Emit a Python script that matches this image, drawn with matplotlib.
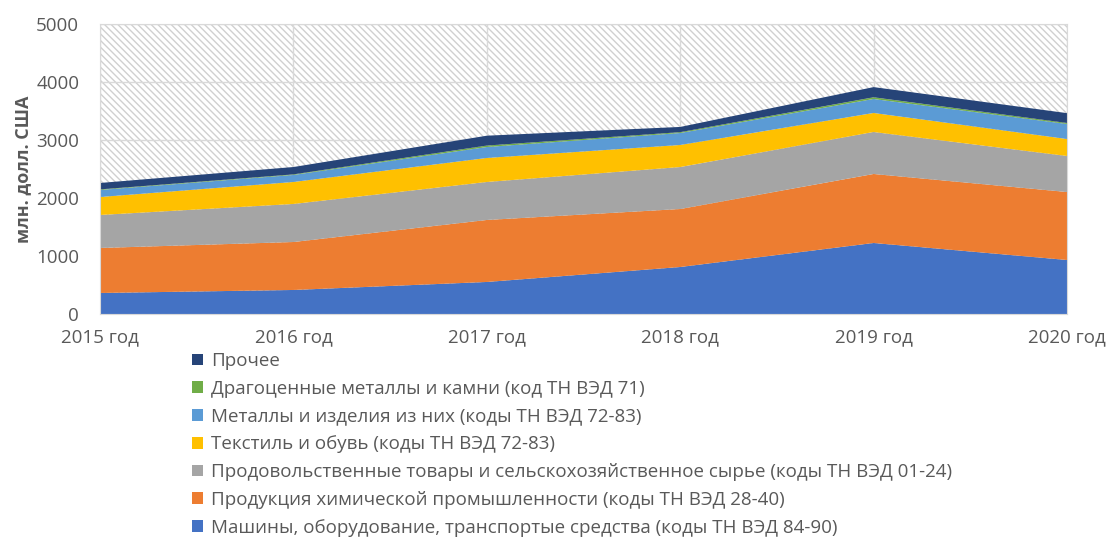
import matplotlib.pyplot as plt
import numpy as np
from matplotlib.patches import Patch

years = ["2015 год", "2016 год", "2017 год", "2018 год", "2019 год", "2020 год"]

# млн. долл. США, снизу вверх
mashiny = [362, 414, 552, 810, 1224, 931]
himiya = [776, 827, 1069, 1000, 1190, 1172]
prodovolstvie = [569, 656, 655, 724, 724, 621]
tekstil = [310, 379, 414, 380, 328, 293]
metally = [121, 121, 189, 206, 241, 259]
dragmetally = [10, 10, 25, 15, 30, 17]
prochee = [111, 127, 170, 90, 175, 170]

names = [
    "Машины, оборудование, транспортые средства (коды ТН ВЭД 84-90)",
    "Продукция химической промышленности (коды ТН ВЭД 28-40)",
    "Продовольственные товары и сельскохозяйственное сырье (коды ТН ВЭД 01-24)",
    "Текстиль и обувь (коды ТН ВЭД 72-83)",
    "Металлы и изделия из них (коды ТН ВЭД 72-83)",
    "Драгоценные металлы и камни (код ТН ВЭД 71)",
    "Прочее",
]
colors = ["#4472C4", "#ED7D31", "#A5A5A5", "#FFC000", "#5B9BD5", "#70AD47", "#264478"]

plt.rcParams['font.family'] = ['Open Sans', 'DejaVu Sans']
txt = "#595959"

fig = plt.figure(figsize=(11.08, 5.38), dpi=100)
ax = fig.add_axes([0.0903, 0.4164, 0.8727, 0.539])

x = np.arange(len(years))
# штриховка фона
ax.fill_between(x, 0, 5000, facecolor="white", edgecolor="#D0D0D0", hatch="\\\\\\\\\\", linewidth=0, zorder=0)

ax.stackplot(x, mashiny, himiya, prodovolstvie, tekstil, metally, dragmetally, prochee,
             colors=colors, zorder=2, edgecolor="none")

ax.set_xlim(0, len(years) - 1)
ax.set_ylim(0, 5000)
ax.set_yticks(range(0, 5001, 1000))
ax.set_xticks(x)
ax.set_xticklabels(years)
ax.grid(True, color="#D9D9D9", linewidth=1, zorder=1)
ax.set_axisbelow(True)
for s in ax.spines.values():
    s.set_color("#D9D9D9")
ax.tick_params(length=0, labelsize=13.5, labelcolor=txt)
ax.tick_params(axis="y", pad=15)
ax.tick_params(axis="x", pad=10)
ax.set_ylabel("млн. долл. США", fontsize=13, fontweight="bold", color=txt, labelpad=3)

handles = [Patch(facecolor=c, edgecolor="none") for c in colors][::-1]
fig.legend(handles, names[::-1], loc="upper left", bbox_to_anchor=(0.165, 0.363),
           frameon=False, fontsize=13.5, labelcolor=txt, handlelength=0.6, handleheight=0.6,
           handletextpad=0.4, labelspacing=0.52, borderpad=0)

fig.savefig("out.png", dpi=100)
